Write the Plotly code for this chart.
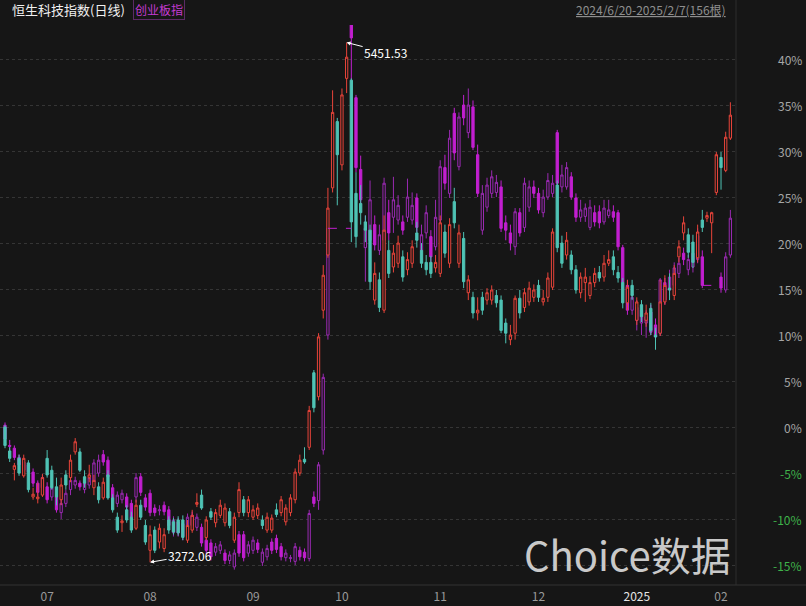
import plotly.graph_objects as go

# ---------------- data (percent change vs. start) ----------------
hst_open = [0.0, -2.6, -4.6, -3.4, -5.3, -3.9, -7.6, -7.8, -7.4, -3.4,
            -4.7, -6.5, -7.9, -5.2, -5.5, -2.7, -2.7, -5.4, -5.5, -6.6,
            -6.5, -7.7, -5.2, -7.7, -9.8, -10.4, -9.0, -9.8, -11.0, -8.5,
            -10.7, -13.4, -11.2, -12.5, -13.2, -10.1, -10.3, -10.1, -10.1, -12.3,
            -11.2, -8.4, -7.4, -12.0, -9.2, -10.4, -9.6, -10.4, -9.2, -12.3,
            -9.3, -7.9, -9.3, -9.8, -9.6, -10.1, -11.2, -11.2, -9.0, -9.3,
            -10.3, -9.3, -7.9, -5.0, -3.5, -2.2, 5.9, 3.3, 12.7, 18.7,
            26.0, 33.2, 28.5, 37.9, 37.7, 25.4, 24.3, 22.3, 21.4, 13.8,
            16.0, 12.7, 19.2, 17.4, 17.8, 18.5, 17.1, 17.8, 21.1, 19.2,
            17.9, 17.9, 17.3, 16.7, 21.2, 17.8, 24.5, 17.8, 20.5, 14.6,
            14.1, 12.4, 14.1, 13.8, 13.8, 14.3, 13.8, 11.3, 9.5, 10.2,
            14.0, 13.0, 13.6, 14.1, 15.4, 13.6, 14.1, 15.2, 26.3, 20.0,
            18.7, 18.7, 17.1, 14.6, 15.7, 14.3, 15.7, 16.8, 16.3, 17.8,
            18.5, 16.8, 15.7, 13.5, 15.4, 11.6, 13.3, 11.6, 12.9, 10.0,
            10.2, 13.6, 15.1, 14.3, 18.5, 21.1, 20.9, 20.1, 18.4, 22.5,
            22.7, 22.2, 25.5, 29.3, 27.9, 31.4]
hst_high = [0.2, -2.2, -3.9, -3.0, -3.0, -3.6, -6.6, -6.1, -5.1, -2.5,
            -4.2, -5.5, -5.5, -4.7, -3.0, -1.2, -2.3, -4.7, -4.1, -5.2,
            -6.0, -5.5, -4.7, -7.3, -9.3, -9.6, -8.5, -9.2, -7.9, -7.9,
            -10.1, -10.7, -10.8, -10.5, -11.0, -9.7, -9.9, -9.7, -9.6, -10.1,
            -9.0, -7.2, -6.8, -9.7, -8.8, -8.9, -7.9, -8.3, -8.8, -9.3,
            -6.0, -7.5, -7.5, -8.5, -8.3, -9.6, -9.3, -9.5, -8.3, -7.5,
            -8.4, -7.3, -4.5, -3.0, -2.2, 2.3, 6.2, 10.2, 17.6, 26.0,
            36.6, 33.6, 36.8, 41.8, 37.9, 27.7, 26.3, 23.0, 22.0, 17.9,
            16.8, 23.0, 20.3, 19.8, 20.8, 19.2, 19.0, 20.3, 22.3, 20.0,
            18.7, 18.6, 18.7, 23.0, 22.0, 22.7, 26.0, 22.0, 21.2, 16.5,
            14.7, 14.1, 14.7, 15.1, 15.4, 14.9, 14.3, 11.8, 11.1, 14.3,
            14.9, 15.1, 15.8, 15.5, 16.0, 14.9, 16.8, 21.6, 26.8, 20.8,
            21.2, 19.2, 17.6, 16.8, 17.3, 16.4, 17.3, 17.5, 18.7, 19.2,
            19.2, 17.5, 16.2, 16.0, 16.0, 14.1, 13.8, 13.3, 13.5, 10.8,
            16.0, 16.5, 16.7, 17.6, 20.3, 22.9, 21.6, 20.9, 22.0, 23.6,
            23.4, 23.4, 29.9, 29.9, 32.1, 35.3]
hst_low = [-2.3, -3.8, -5.8, -5.3, -5.5, -7.1, -7.9, -8.3, -7.6, -5.5,
           -6.8, -8.5, -8.5, -6.8, -6.0, -3.0, -4.9, -6.6, -6.0, -7.4,
           -8.3, -7.9, -7.9, -9.3, -11.5, -11.4, -10.4, -11.5, -11.2, -10.1,
           -12.8, -14.7, -13.7, -13.2, -13.6, -11.6, -11.7, -11.8, -12.3, -12.6,
           -11.5, -8.7, -9.0, -12.3, -10.1, -10.9, -9.9, -10.8, -11.0, -12.6,
           -9.8, -9.7, -9.8, -10.1, -10.0, -11.1, -11.5, -11.5, -9.8, -9.7,
           -10.7, -9.7, -8.3, -5.3, -4.0, -2.5, 1.6, 2.9, 11.8, 18.4,
           25.5, 24.1, 27.9, 36.3, 20.1, 19.5, 22.0, 20.1, 14.9, 13.3,
           12.5, 12.4, 16.2, 16.8, 17.3, 15.8, 16.5, 17.3, 19.5, 17.3,
           16.5, 16.2, 16.8, 16.3, 18.4, 17.3, 21.6, 17.3, 15.1, 13.8,
           11.8, 11.6, 12.2, 13.3, 13.3, 13.0, 10.2, 9.1, 8.9, 9.5,
           11.8, 12.5, 13.2, 13.6, 13.6, 13.2, 13.6, 14.9, 19.0, 17.3,
           18.2, 16.6, 14.5, 14.0, 13.6, 13.9, 15.2, 15.8, 15.8, 17.5,
           16.5, 15.7, 12.9, 12.7, 13.8, 11.1, 11.4, 10.9, 10.0, 8.4,
           9.9, 13.3, 13.8, 13.8, 17.9, 20.3, 18.4, 17.3, 17.9, 21.2,
           22.3, 18.9, 25.2, 25.8, 27.7, 31.2]
hst_close = [-2.0, -3.4, -4.2, -5.0, -3.4, -6.8, -7.3, -7.6, -5.5, -5.2,
             -6.6, -7.6, -6.3, -6.3, -3.6, -1.6, -4.7, -6.1, -5.2, -5.8,
             -7.9, -6.0, -7.7, -9.0, -11.2, -10.2, -10.1, -11.2, -8.5, -9.8,
             -12.5, -11.7, -13.4, -11.0, -11.7, -11.2, -11.4, -11.5, -12.0, -10.7,
             -9.6, -8.2, -8.8, -10.1, -9.8, -9.3, -8.5, -8.8, -10.7, -9.8,
             -6.8, -9.3, -7.9, -9.0, -8.8, -10.7, -9.8, -9.9, -9.5, -7.9,
             -8.8, -7.7, -4.9, -3.6, -3.8, 1.8, 2.1, 9.8, 16.5, 23.8,
             34.2, 29.6, 36.1, 40.2, 22.3, 20.7, 23.3, 21.4, 15.8, 16.7,
             13.0, 21.4, 16.7, 18.9, 20.0, 16.3, 18.2, 19.6, 20.3, 17.8,
             17.1, 16.7, 17.9, 22.2, 18.9, 22.0, 22.2, 21.1, 15.8, 16.0,
             12.4, 12.7, 12.7, 14.6, 14.9, 13.5, 10.5, 10.2, 10.0, 14.0,
             12.4, 14.6, 15.1, 14.9, 14.1, 14.0, 16.2, 21.2, 19.5, 17.8,
             20.3, 17.1, 14.9, 16.3, 16.3, 15.7, 16.7, 16.2, 17.8, 18.2,
             17.1, 16.2, 13.5, 15.2, 14.3, 13.6, 12.0, 12.4, 10.5, 9.8,
             13.6, 15.4, 14.9, 16.7, 19.6, 22.2, 19.0, 17.9, 21.2, 21.7,
             23.0, 23.3, 29.6, 28.2, 31.5, 33.9]

N4 = [None] * 4
N3 = [None] * 3
cn_open = ([0.2, -2.0, -2.3, -3.3, -4.7, -4.1, -4.9, -6.1, -6.6, -6.5,
            -7.6, -7.6, -9.3, -8.3, -6.8, -6.3, -6.1, -6.8, -6.3, -6.0,
            -5.0, -3.0, -3.6, -6.6, -8.3, -7.9, -7.6, -8.3, -7.6, -5.4,
            -7.7, -7.2, -8.8, -9.1, -8.5, -9.0, -11.5, -10.3, -11.9, -10.9,
            -9.6, -10.9, -10.9, -12.3, -12.6, -13.6, -13.4, -13.7, -14.5, -15.2,
            -11.7, -11.7, -13.7, -13.4, -12.6, -14.7, -14.1, -12.5, -12.1, -13.0,
            -14.2, -14.3, -14.6, -13.4, -13.6, -14.3, -7.6, -8.0, -2.5, 10.0]
           + N4 + [44.2, 35.8, 28.0, 19.5, 20.3, 22.0,
            19.2, 20.3, 23.3, 22.8, 22.5, 22.3, 22.8, 22.5, 24.9, 19.2,
            21.1, 20.7, 19.6, 22.5, 28.2, 25.4, 34.1, 28.3, 35.0, 32.0,
            34.8, 29.6, 21.4, 23.9, 25.4, 25.5, 26.1, 22.2, 21.1, 19.6,
            23.3, 21.7, 23.9, 26.1, 25.4, 23.3, 25.0, 25.4, 32.0, 26.1,
            26.1, 27.2, 24.9, 22.8, 22.9, 21.7, 23.3, 23.4, 22.3, 23.0,
            23.4, 23.3, 19.5, 15.4, 12.7, 11.6, 11.3, 11.3, 12.5, 11.1,
            10.2, 15.7, 14.9, 15.4, 16.7, 18.9, 17.1, 17.4, 18.2, 18.5]
           + N3 + [16.3, 14.9, 18.7])
cn_high = ([0.5, -1.4, -2.0, -3.0, -3.4, -3.8, -4.5, -5.8, -5.2, -6.0,
            -6.2, -7.2, -7.6, -6.8, -5.2, -5.4, -5.8, -5.7, -5.0, -3.5,
            -3.0, -2.5, -3.2, -6.2, -7.0, -6.8, -7.2, -7.9, -5.0, -5.0,
            -7.3, -6.8, -8.4, -8.5, -8.1, -8.6, -9.7, -9.9, -10.1, -9.4,
            -9.2, -9.4, -10.5, -11.9, -12.2, -12.6, -12.4, -13.3, -13.5, -13.3,
            -11.3, -11.3, -12.4, -11.9, -12.2, -13.2, -12.8, -12.1, -11.7, -12.6,
            -13.3, -13.9, -12.6, -13.0, -13.2, -9.0, -7.0, -3.8, 5.8, 23.5]
           + N4 + [44.5, 36.1, 29.5, 23.0, 26.8, 23.0,
            22.0, 27.1, 24.7, 27.2, 25.2, 23.0, 27.0, 25.5, 25.4, 22.0,
            24.1, 21.4, 24.7, 29.0, 29.6, 32.3, 34.7, 34.2, 36.1, 36.8,
            35.5, 30.7, 26.3, 27.1, 27.9, 27.4, 26.8, 23.0, 22.0, 23.8,
            23.8, 27.1, 26.8, 26.8, 26.0, 25.8, 27.6, 27.4, 32.3, 28.5,
            28.8, 27.7, 25.4, 24.7, 24.3, 24.7, 24.1, 24.1, 24.7, 24.7,
            24.1, 23.6, 19.8, 16.0, 14.9, 13.8, 13.3, 12.7, 13.3, 11.8,
            16.2, 16.2, 17.1, 17.9, 18.4, 19.5, 18.7, 19.5, 21.6, 19.2]
           + N3 + [16.8, 19.0, 23.6])
cn_low = ([-1.6, -2.7, -3.6, -4.5, -5.0, -5.2, -6.5, -7.5, -7.0, -8.3,
           -8.0, -9.3, -10.0, -8.7, -7.4, -6.7, -6.9, -7.2, -6.7, -6.4,
           -5.4, -4.2, -5.8, -8.1, -8.7, -8.3, -9.1, -10.2, -8.2, -7.5,
           -9.1, -9.7, -9.7, -9.6, -9.6, -11.1, -11.9, -11.9, -12.3, -11.3,
           -11.1, -11.3, -13.0, -13.8, -14.5, -14.0, -13.8, -14.9, -14.9, -15.5,
           -14.1, -14.6, -14.1, -13.8, -13.7, -15.1, -14.5, -13.8, -13.7, -14.5,
           -14.6, -14.7, -15.0, -14.5, -14.6, -14.6, -8.7, -9.0, -3.0, 9.5]
          + N4 + [35.5, 27.7, 24.0, 15.8, 17.9, 19.2,
           18.7, 19.8, 20.3, 21.1, 22.0, 20.9, 22.3, 22.0, 21.2, 18.7,
           20.5, 17.9, 19.2, 22.0, 25.8, 24.9, 29.0, 27.9, 32.8, 31.4,
           30.1, 25.0, 20.9, 23.4, 24.9, 25.0, 21.2, 20.3, 19.2, 18.7,
           20.7, 21.2, 23.4, 24.9, 23.2, 22.8, 24.7, 25.0, 26.2, 25.5,
           25.8, 24.7, 22.3, 22.3, 22.3, 21.4, 21.8, 21.6, 22.0, 22.7,
           22.3, 19.2, 15.1, 12.2, 12.2, 10.5, 10.0, 9.7, 10.0, 9.1,
           9.9, 13.3, 14.3, 14.9, 16.2, 17.6, 16.5, 16.8, 17.8, 15.1]
          + N3 + [14.6, 14.6, 18.4])
cn_close = ([-1.3, -2.1, -3.3, -4.1, -3.8, -4.9, -6.1, -7.1, -5.5, -7.9,
             -6.6, -9.0, -8.3, -7.2, -5.8, -5.8, -6.5, -6.1, -5.5, -3.9,
             -3.6, -3.8, -5.4, -7.7, -7.4, -7.2, -8.7, -9.8, -5.5, -7.1,
             -8.7, -9.3, -9.3, -9.0, -9.2, -10.7, -10.1, -11.5, -10.5, -9.8,
             -10.7, -9.8, -12.6, -13.4, -14.1, -13.0, -12.8, -14.5, -13.9, -13.7,
             -13.7, -14.2, -12.8, -12.3, -13.3, -13.6, -13.2, -13.4, -13.3, -14.1,
             -13.7, -14.2, -13.0, -14.1, -14.2, -9.4, -8.3, -4.1, 5.4, 21.6]
            + N4 + [42.3, 28.2, 24.7, 21.6, 24.7, 19.8,
             20.9, 26.5, 21.1, 24.7, 24.1, 21.4, 25.0, 24.1, 21.7, 20.9,
             23.3, 18.5, 22.8, 28.3, 26.5, 31.4, 29.8, 33.7, 33.6, 35.0,
             30.4, 25.4, 25.4, 26.3, 27.2, 26.6, 21.6, 21.4, 20.0, 23.4,
             21.1, 26.5, 26.1, 25.4, 23.6, 25.0, 26.8, 26.5, 26.5, 27.4,
             28.2, 25.0, 22.8, 23.6, 23.8, 23.9, 22.3, 22.2, 23.8, 23.6,
             22.8, 19.6, 15.7, 12.7, 14.1, 13.0, 12.7, 12.0, 10.3, 9.8,
             16.0, 13.8, 16.3, 17.3, 17.8, 18.2, 18.2, 18.9, 20.8, 15.4]
            + N3 + [15.1, 18.5, 22.7])

month_labels = ["07", "08", "09", "10", "11", "12", "2025", "02"]
month_start_idx = [7, 29, 51, 70, 91, 112, 133, 151]
pct_ticks = [40, 35, 30, 25, 20, 15, 10, 5, 0, -5, -10, -15]
hst_max_price = 5451.53
hst_min_price = 3272.06

# ---------------- styling ----------------
BG = "#161616"
RED = "#e8443a"
CYAN = "#4fc3b5"
MAG = "#c21fd0"
MAG_HOLLOW = "#9a2ab2"
FONT = "Noto Sans CJK SC, Noto Sans, sans-serif"

x = list(range(len(hst_close)))

fig = go.Figure()

# ChiNext overlay (drawn below)
fig.add_trace(go.Candlestick(
    x=x, open=cn_open, high=cn_high, low=cn_low, close=cn_close,
    increasing=dict(line=dict(color=MAG_HOLLOW, width=1), fillcolor=BG),
    decreasing=dict(line=dict(color=MAG, width=1), fillcolor=MAG),
    whiskerwidth=0, showlegend=False, hoverinfo="skip"))

# dashed connectors across ChiNext holidays
i = 0
n = len(cn_close)
while i < n:
    if cn_close[i] is None:
        j = i
        while j < n and cn_close[j] is None:
            j += 1
        if i > 0 and j < n:
            fig.add_trace(go.Scatter(
                x=[i - 1, j], y=[cn_close[i - 1], cn_close[i - 1]],
                mode="lines", line=dict(color=MAG, width=1, dash="dash"),
                showlegend=False, hoverinfo="skip"))
        i = j
    else:
        i += 1

# Hang Seng Tech main
fig.add_trace(go.Candlestick(
    x=x, open=hst_open, high=hst_high, low=hst_low, close=hst_close,
    increasing=dict(line=dict(color=RED, width=1), fillcolor=BG),
    decreasing=dict(line=dict(color=CYAN, width=1), fillcolor=CYAN),
    whiskerwidth=0, showlegend=False, hoverinfo="skip"))

ann = []
# right-side percent labels
for v in pct_ticks:
    ann.append(dict(x=1.0925, xref="paper", y=v, yref="y", text=f"{v}%",
                    showarrow=False, xanchor="right", yanchor="middle",
                    font=dict(size=12, color="#a6a6a6" if v >= 0 else "#3fb24a",
                              family=FONT)))

# max / min markers
imax = max(range(len(hst_high)), key=lambda k: hst_high[k])
imin = min(range(len(hst_low)), key=lambda k: hst_low[k])
ann.append(dict(x=imax, y=hst_high[imax], xref="x", yref="y",
                text=f"{hst_max_price:.2f}", showarrow=True, ax=39, ay=10,
                arrowhead=2, arrowsize=0.8, arrowwidth=1, arrowcolor="#ffffff",
                font=dict(size=12, color="#ffffff", family=FONT)))
ann.append(dict(x=imin, y=hst_low[imin], xref="x", yref="y",
                text=f"{hst_min_price:.2f}", showarrow=True, ax=40, ay=-7,
                arrowhead=2, arrowsize=0.8, arrowwidth=1, arrowcolor="#ffffff",
                font=dict(size=12, color="#ffffff", family=FONT)))

# header texts
ann.append(dict(x=0.0136, y=1.027, xref="paper", yref="paper", text="恒生科技指数(日线)",
                showarrow=False, xanchor="left", yanchor="middle",
                font=dict(size=13, color="#f0f0f0", family=FONT)))
ann.append(dict(x=0.181, y=1.027, xref="paper", yref="paper", text="创业板指",
                showarrow=False, xanchor="left", yanchor="middle",
                bordercolor="#5c2a66", borderwidth=1, borderpad=1,
                font=dict(size=12, color="#c53ad2", family=FONT)))
ann.append(dict(x=0.989, y=1.027, xref="paper", yref="paper",
                text='<span style="text-decoration:underline">2024/6/20-2025/2/7(156根)</span>',
                showarrow=False, xanchor="right", yanchor="middle",
                font=dict(size=12, color="#8e8e8e", family=FONT)))
# watermark
ann.append(dict(x=0.853, y=0.056, xref="paper", yref="paper", text="Choice数据",
                showarrow=False, xanchor="center", yanchor="middle",
                font=dict(size=40, color="#c9c9c9", family=FONT)))

tick_pos = [m + 2 for m in month_start_idx]
tick_text = [f'<span style="color:#e6e6e6">{t}</span>' if t == "2025" else t
             for t in month_labels]

fig.update_layout(
    width=806, height=606,
    margin=dict(l=0, r=70, t=25, b=21),
    paper_bgcolor=BG, plot_bgcolor=BG,
    font=dict(family=FONT, color="#9a9a9a"),
    annotations=ann,
    xaxis=dict(range=[-1.07, 156.2], rangeslider=dict(visible=False),
               showgrid=False, zeroline=False, showline=False,
               tickmode="array", tickvals=tick_pos, ticktext=tick_text,
               ticks="", ticklabelstandoff=3,
               tickfont=dict(size=12, color="#9a9a9a", family=FONT)),
    yaxis=dict(range=[-17.17, 43.7], side="right", showticklabels=False,
               tickmode="array", tickvals=pct_ticks, zeroline=False,
               showgrid=True, gridcolor="#353535", griddash="dot", gridwidth=1,
               showline=False),
    shapes=[
        dict(type="line", xref="paper", yref="paper", x0=1, x1=1, y0=0, y1=1.045,
             line=dict(color="#2c2c2c", width=1)),
        dict(type="line", xref="paper", yref="paper", x0=0, x1=1.1, y0=0, y1=0,
             line=dict(color="#333333", width=1)),
    ],
)

fig.write_html("out.html", config={"displayModeBar": False})

# remove default page margin so the 806x606 figure fills the window exactly
with open("out.html", "r", encoding="utf-8") as f:
    html = f.read()
html = html.replace("<head>", "<head><style>html,body{margin:0;padding:0;overflow:hidden;background:#161616;}</style>", 1)
with open("out.html", "w", encoding="utf-8") as f:
    f.write(html)
